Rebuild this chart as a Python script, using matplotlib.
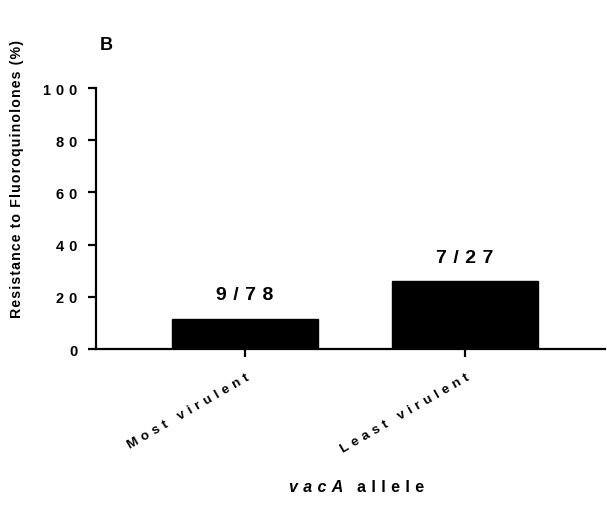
import matplotlib
matplotlib.use("Agg")
import matplotlib.pyplot as plt

# data
categories = ["Most virulent", "Least virulent"]
resistant = [9, 7]
totals = [78, 27]
percent = [100 * r / t for r, t in zip(resistant, totals)]
yticks = [0, 20, 40, 60, 80, 100]

plt.rcParams["font.family"] = ["Liberation Sans", "DejaVu Sans"]
plt.rcParams["font.weight"] = "bold"


def spaced(s, sep="\u2004"):
    # Prism-style letter spacing
    return sep.join(s)


fig = plt.figure(figsize=(6.07, 5.06), dpi=100)
ax = fig.add_axes([0.158, 0.308, 0.839, 0.516])

x = list(range(len(categories)))
ax.bar(x, percent, width=0.66, color="black", edgecolor="black")

for xi, p, r, t in zip(x, percent, resistant, totals):
    ax.text(xi, p + 6, spaced(f"{r}/{t}"), ha="center", va="bottom",
            fontsize=14, fontweight="bold")

ax.set_ylim(0, 100)
ax.set_xlim(-0.677, 1.636)
ax.set_yticks(yticks)
ax.set_yticklabels([spaced(str(v)) for v in yticks], fontsize=10.5, fontweight="bold")
ax.set_xticks(x)
ax.set_xticklabels([spaced(c) for c in categories], rotation=30, ha="right",
                   va="top", rotation_mode="anchor", fontsize=9.7, fontweight="bold")

for side in ["top", "right"]:
    ax.spines[side].set_visible(False)
for side in ["left", "bottom"]:
    ax.spines[side].set_linewidth(1.6)
ax.tick_params(width=1.6, length=5.5)
ax.tick_params(axis="y", pad=8)
ax.tick_params(axis="x", pad=10)

fig.text(0.028, 0.647, spaced("Resistance to Fluoroquinolones (%)", "\u200a"),
         rotation=90, ha="center", va="center", fontsize=10.2, fontweight="bold")
fig.text(0.565, 0.036, spaced("vacA"), style="italic", ha="right",
         va="center", fontsize=11.5, fontweight="bold")
fig.text(0.588, 0.036, spaced("allele"), ha="left", va="center",
         fontsize=11.5, fontweight="bold")
fig.text(0.175, 0.91, "B", ha="center", va="center", fontsize=13, fontweight="bold")

fig.savefig("out.png", dpi=100)
